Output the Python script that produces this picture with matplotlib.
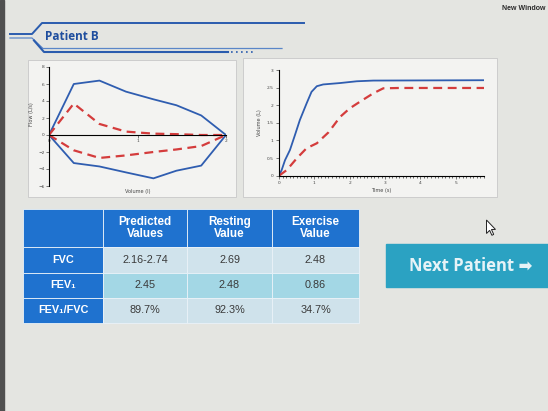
import matplotlib
matplotlib.use("Agg")
import matplotlib.pyplot as plt
from matplotlib.patches import Rectangle, Polygon
from matplotlib.ticker import MultipleLocator

# flow-volume loop (volume in l, flow in L/s)
loop_volume = [0, 0.28, 0.57, 0.87, 1.18, 1.44, 1.72, 2.0]
rest_exp_flow = [0, 6.0, 6.4, 5.1, 4.2, 3.5, 2.3, 0]
rest_insp_flow = [0, -3.3, -3.7, -4.4, -5.1, -4.2, -3.6, 0]
ex_exp_flow = [0, 3.7, 1.3, 0.4, 0.16, 0.1, 0.0, 0]
ex_insp_flow = [0, -1.8, -2.7, -2.4, -2.0, -1.7, -1.3, 0]

# volume-time curves
rest_time = [0, 0.075, 0.17, 0.31, 0.45, 0.59, 0.78, 0.92, 1.07, 1.25, 1.73, 2.2, 2.67, 5.8]
rest_volume = [0, 0.16, 0.44, 0.73, 1.15, 1.58, 2.05, 2.38, 2.54, 2.59, 2.63, 2.68, 2.70, 2.71]
ex_time = [0, 0.22, 0.5, 0.78, 1.07, 1.4, 1.73, 2.0, 2.29, 2.67, 2.95, 3.42, 5.8]
ex_volume = [0, 0.16, 0.49, 0.78, 0.92, 1.23, 1.67, 1.91, 2.1, 2.34, 2.48, 2.49, 2.49]

# table
col_labels = ["", "Predicted\nValues", "Resting\nValue", "Exercise\nValue"]
row_labels = ["FVC", "FEV\u2081", "FEV\u2081/FVC"]
predicted = ["2.16-2.74", "2.45", "89.7%"]
resting = ["2.69", "2.48", "92.3%"]
exercise = ["2.48", "0.86", "34.7%"]

BLUE = "#2f5db0"
RED = "#d43c3c"
TBL_BLUE = "#1f72cf"
W, H = 548, 411

fig = plt.figure(figsize=(W / 100, H / 100), dpi=100, facecolor="#e4e5e1")

# page overlay in pixel coordinates
bg = fig.add_axes([0, 0, 1, 1], zorder=0)
bg.set_xlim(0, W)
bg.set_ylim(H, 0)
bg.axis("off")
bg.add_patch(Rectangle((0, 0), 4, H, color="#505050"))

# header decoration
bg.plot([10, 32, 42, 304], [34, 34, 23, 23], color="#2a5cae", lw=1.4)
bg.plot([10, 32, 43, 282], [38, 38, 48.5, 48.5], color="#5a86c8", lw=0.9)
bg.plot([34, 44, 228], [40.5, 52, 52], color="#2a5cae", lw=1.5)
bg.plot([231, 256], [52, 52], color="#2a5cae", lw=1.2, ls=(0, (1, 2)))
bg.text(45, 37, "Patient B", color="#1f4e9e", fontsize=8.5, fontweight="bold",
        family="Open Sans", va="center", ha="left")
bg.text(546, 9, "New Window", color="#2a2a2a", fontsize=5, fontweight="bold",
        family="Liberation Sans", va="center", ha="right")

# chart panels
bg.add_patch(Rectangle((28, 60), 208, 137, facecolor="#f3f3f1", edgecolor="#c8c8c8", lw=0.6))
bg.add_patch(Rectangle((243, 58), 254, 139, facecolor="#f3f3f1", edgecolor="#c8c8c8", lw=0.6))

# next patient button
bg.add_patch(Rectangle((386, 244), W - 386, 43, color="#2ba2c2"))
bg.text(471, 266, "Next Patient \u27a1", color="#e6f3f7", fontsize=12, fontweight="bold",
        family=["Open Sans", "DejaVu Sans"], ha="center", va="center")

# mouse cursor
tip_x, tip_y = 486.5, 220
cursor = [(0, 0), (0, 15), (3.5, 11.5), (6, 17), (8, 16), (5.5, 10.5), (10, 10.5)]
bg.add_patch(Polygon([(tip_x + dx * 0.9, tip_y + dy * 0.9) for dx, dy in cursor],
                     closed=True, facecolor="white", edgecolor="#222222", lw=0.7))

# flow-volume chart
ax1 = fig.add_axes([49 / W, 1 - 186 / H, 177 / W, 119 / H], zorder=1)
ax1.set_facecolor("none")
ax1.plot(loop_volume, rest_exp_flow, color=BLUE, lw=1.3)
ax1.plot(loop_volume, rest_insp_flow, color=BLUE, lw=1.3)
ax1.plot(loop_volume, ex_exp_flow, color=RED, lw=1.6, ls=(0, (4, 2.5)))
ax1.plot(loop_volume, ex_insp_flow, color=RED, lw=1.6, ls=(0, (4, 2.5)))
ax1.set_xlim(0, 2)
ax1.set_ylim(-6, 8)
ax1.set_xticks([0, 1, 2])
ax1.set_yticks(range(-6, 9, 2))
for s in ["top", "right"]:
    ax1.spines[s].set_visible(False)
ax1.spines["left"].set_position(("data", 0))
ax1.spines["bottom"].set_position(("data", 0))
ax1.tick_params(labelsize=3.2, length=2, width=0.5, pad=1, colors="#444444")
ax1.text(0.5, -0.045, "Volume (l)", transform=ax1.transAxes, fontsize=3.6,
         ha="center", va="center", color="#444444")
ax1.text(-0.1, 0.6, "Flow (L/s)", transform=ax1.transAxes, fontsize=3.6,
         ha="center", va="center", rotation=90, color="#444444")

# volume-time chart
ax2 = fig.add_axes([279 / W, 1 - 175.7 / H, 205 / W, 105.7 / H], zorder=1)
ax2.set_facecolor("none")
ax2.plot(rest_time, rest_volume, color=BLUE, lw=1.3)
ax2.plot(ex_time, ex_volume, color=RED, lw=1.6, ls=(0, (4, 2.5)))
ax2.set_xlim(0, 5.8)
ax2.set_ylim(0, 3)
ax2.xaxis.set_major_locator(MultipleLocator(1))
ax2.xaxis.set_minor_locator(MultipleLocator(0.1))
ax2.yaxis.set_major_locator(MultipleLocator(0.5))
ax2.set_yticklabels([f"{v:g}" for v in ax2.get_yticks()])
for s in ["top", "right"]:
    ax2.spines[s].set_visible(False)
ax2.tick_params(labelsize=3.2, length=2, width=0.5, pad=2, colors="#444444")
ax2.tick_params(which="minor", length=1.2, width=0.4)
ax2.set_xlabel("Time (s)", fontsize=3.6, labelpad=2, color="#444444")
ax2.set_ylabel("Volume (L)", fontsize=3.6, labelpad=3, color="#444444")

# results table
cells = [[""] + col_labels[1:]] + [[r, p, rs, e] for r, p, rs, e in zip(row_labels, predicted, resting, exercise)]
tbl = bg.table(cellText=cells, cellLoc="center",
               colWidths=[80, 84, 85, 87],
               bbox=[23 / W, 1 - 323 / H, 336 / W, 114 / H])
tbl.auto_set_font_size(False)
row_fill = ["#d0e3ec", "#a3d7e5", "#cfe2eb"]
for (r, c), cell in tbl.get_celld().items():
    cell.set_height(38 if r == 0 else 25)
    cell.set_edgecolor("#eaf2f8")
    cell.set_linewidth(0.6)
    txt = cell.get_text()
    txt.set_family("Liberation Sans")
    if r == 0 or c == 0:
        cell.set_facecolor(TBL_BLUE)
        txt.set_color("white")
        txt.set_fontweight("bold")
        txt.set_fontsize(8.4 if r == 0 else 7.8)
        txt.set_linespacing(1.0)
    else:
        cell.set_facecolor(row_fill[r - 1])
        txt.set_color("#3a3a3a")
        txt.set_fontsize(7.8)

fig.savefig("out.png", dpi=100, facecolor=fig.get_facecolor())
